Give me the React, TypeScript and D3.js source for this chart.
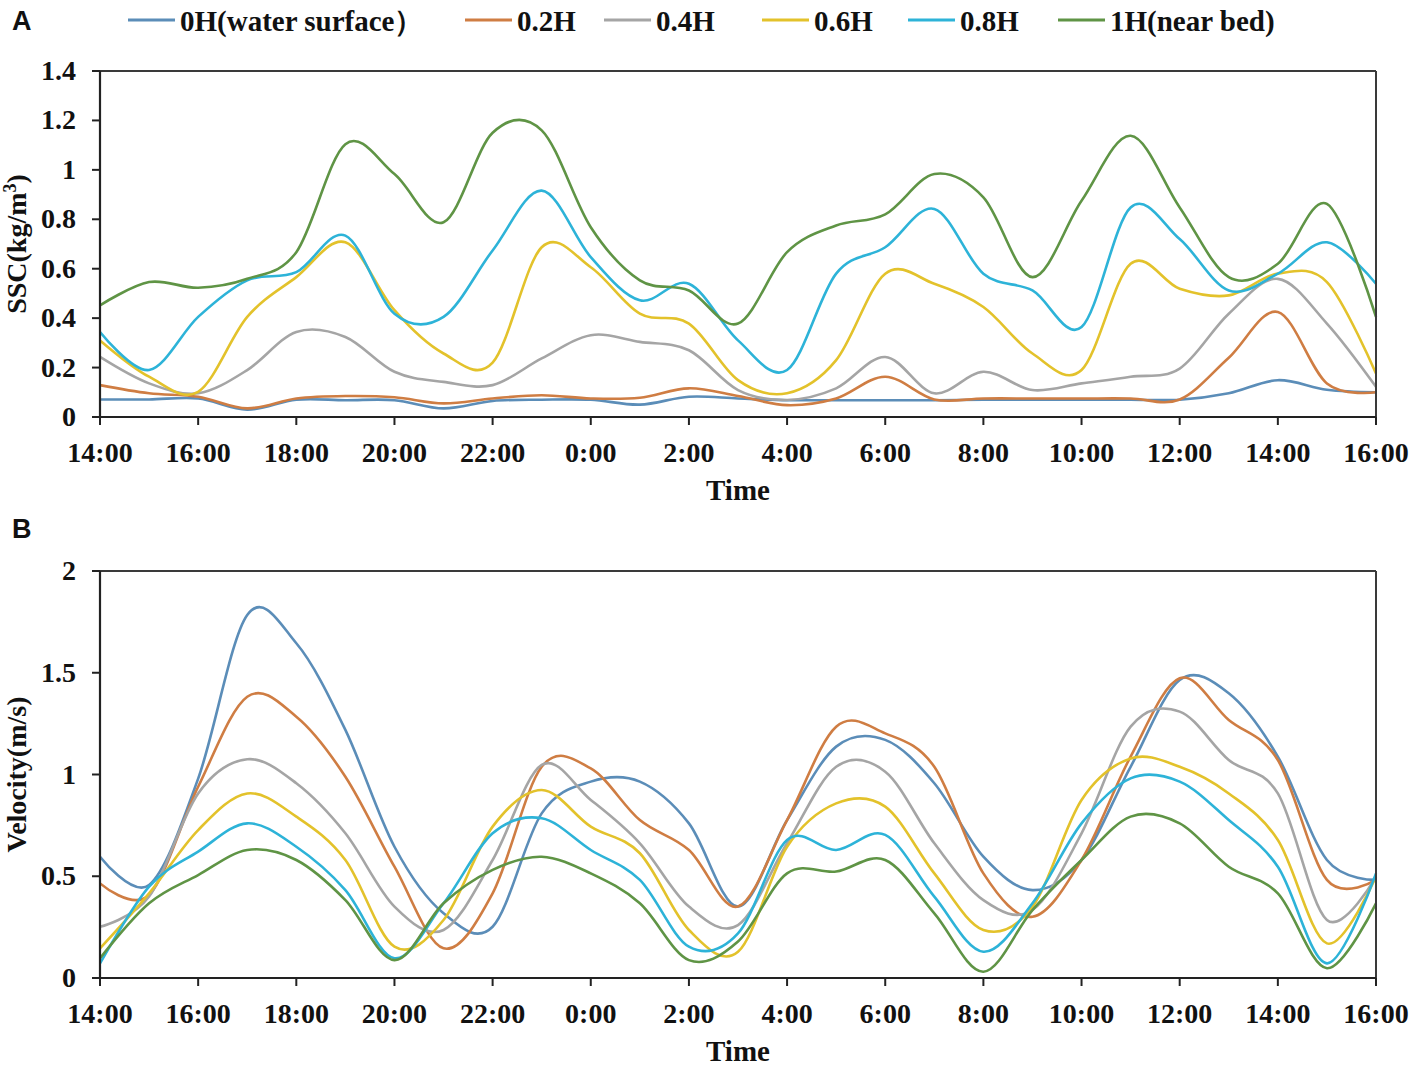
import React from "react";
import * as d3 from "d3";

// ---------- data ----------
const HOURS = [0, 1, 2, 3, 4, 5, 6, 7, 8, 9, 10, 11, 12, 13, 14, 15, 16, 17, 18, 19, 20, 21, 22, 23, 24, 25, 26];
const TICK_LABELS = ["14:00", "16:00", "18:00", "20:00", "22:00", "0:00", "2:00", "4:00", "6:00", "8:00", "10:00", "12:00", "14:00", "16:00"];
const SERIES_NAMES = ["0H(water surface）", "0.2H", "0.4H", "0.6H", "0.8H", "1H(near bed)"];
const SERIES_COLORS = ["#5B8DB8", "#CF7D43", "#A5A5A5", "#E3C22B", "#2DB3D8", "#5F9445"];

const SSC_0H = [0.071, 0.071, 0.075, 0.03, 0.07, 0.068, 0.068, 0.035, 0.065, 0.07, 0.07, 0.05, 0.082, 0.075, 0.068, 0.068, 0.068, 0.068, 0.07, 0.07, 0.07, 0.07, 0.07, 0.096, 0.149, 0.11, 0.1];
const SSC_02H = [0.129, 0.096, 0.082, 0.035, 0.075, 0.085, 0.08, 0.055, 0.075, 0.088, 0.075, 0.078, 0.116, 0.085, 0.048, 0.075, 0.163, 0.071, 0.075, 0.075, 0.075, 0.075, 0.071, 0.24, 0.425, 0.136, 0.1];
const SSC_04H = [0.243, 0.136, 0.096, 0.19, 0.344, 0.324, 0.183, 0.142, 0.129, 0.237, 0.331, 0.304, 0.27, 0.109, 0.069, 0.116, 0.243, 0.096, 0.183, 0.109, 0.136, 0.163, 0.196, 0.418, 0.559, 0.378, 0.122];
const SSC_06H = [0.31, 0.163, 0.102, 0.405, 0.566, 0.707, 0.432, 0.257, 0.22, 0.687, 0.606, 0.418, 0.378, 0.149, 0.096, 0.23, 0.58, 0.539, 0.445, 0.257, 0.19, 0.62, 0.519, 0.492, 0.58, 0.546, 0.176];
const SSC_08H = [0.344, 0.19, 0.405, 0.553, 0.586, 0.734, 0.418, 0.405, 0.674, 0.916, 0.647, 0.472, 0.539, 0.31, 0.19, 0.58, 0.687, 0.842, 0.58, 0.512, 0.364, 0.848, 0.72, 0.512, 0.58, 0.707, 0.539];
const SSC_1H = [0.452, 0.546, 0.523, 0.559, 0.667, 1.104, 0.983, 0.788, 1.15, 1.16, 0.768, 0.553, 0.512, 0.378, 0.667, 0.775, 0.82, 0.983, 0.889, 0.566, 0.875, 1.138, 0.848, 0.566, 0.62, 0.862, 0.405];

const VEL_0H = [0.596, 0.457, 0.98, 1.784, 1.645, 1.219, 0.645, 0.318, 0.252, 0.809, 0.965, 0.965, 0.76, 0.351, 0.776, 1.137, 1.17, 0.957, 0.596, 0.432, 0.58, 1.038, 1.464, 1.399, 1.088, 0.58, 0.482];
const VEL_02H = [0.465, 0.408, 0.94, 1.382, 1.284, 0.989, 0.547, 0.146, 0.416, 1.038, 1.03, 0.776, 0.629, 0.351, 0.776, 1.235, 1.202, 1.038, 0.514, 0.301, 0.58, 1.088, 1.473, 1.268, 1.071, 0.482, 0.482];
const VEL_04H = [0.252, 0.4, 0.907, 1.075, 0.957, 0.711, 0.351, 0.236, 0.58, 1.047, 0.875, 0.662, 0.351, 0.26, 0.662, 1.038, 1.014, 0.662, 0.383, 0.334, 0.711, 1.235, 1.309, 1.071, 0.907, 0.285, 0.498];
const VEL_06H = [0.146, 0.416, 0.727, 0.907, 0.793, 0.58, 0.154, 0.285, 0.744, 0.924, 0.744, 0.613, 0.236, 0.129, 0.645, 0.858, 0.842, 0.514, 0.236, 0.35, 0.875, 1.079, 1.038, 0.907, 0.678, 0.17, 0.498];
const VEL_08H = [0.072, 0.449, 0.621, 0.76, 0.645, 0.432, 0.097, 0.367, 0.711, 0.785, 0.629, 0.482, 0.154, 0.219, 0.678, 0.629, 0.703, 0.4, 0.129, 0.367, 0.76, 0.981, 0.965, 0.776, 0.547, 0.072, 0.514];
const VEL_1H = [0.097, 0.367, 0.506, 0.629, 0.58, 0.383, 0.088, 0.367, 0.531, 0.596, 0.514, 0.367, 0.088, 0.179, 0.514, 0.523, 0.58, 0.318, 0.031, 0.334, 0.58, 0.793, 0.76, 0.547, 0.416, 0.048, 0.367];

const SSC_TICKS = [0, 0.2, 0.4, 0.6, 0.8, 1, 1.2, 1.4];
const VEL_TICKS = [0, 0.5, 1, 1.5, 2];

const SSC_SERIES = [SSC_0H, SSC_02H, SSC_04H, SSC_06H, SSC_08H, SSC_1H];
const VEL_SERIES = [VEL_0H, VEL_02H, VEL_04H, VEL_06H, VEL_08H, VEL_1H];

// ---------- layout ----------
const W = 1417;
const H = 1068;
const PLOT_LEFT = 100;
const PLOT_RIGHT = 1376;
const SERIF = "'Liberation Serif', 'Times New Roman', serif";
const SANS = "'Liberation Sans', Arial, sans-serif";

type PanelProps = {
  top: number;
  bottom: number;
  yMax: number;
  yTicks: number[];
  series: number[][];
  yLabel: React.ReactNode;
};

function Panel({ top, bottom, yMax, yTicks, series, yLabel }: PanelProps) {
  const x = d3.scaleLinear().domain([0, 26]).range([PLOT_LEFT, PLOT_RIGHT]);
  const y = d3.scaleLinear().domain([0, yMax]).range([bottom, top]);
  const line = d3
    .line<number>()
    .x((_, i) => x(HOURS[i]))
    .y((d) => y(d))
    .curve(d3.curveCatmullRom.alpha(0));
  const xTicks = TICK_LABELS.map((lab, i) => ({ lab, h: i * 2 }));
  const fmt = d3.format("~g");
  const midY = (top + bottom) / 2;
  return (
    <g>
      {series.map((s, i) => (
        <path key={i} d={line(s) || ""} fill="none" stroke={SERIES_COLORS[i]} strokeWidth={2.6} strokeLinejoin="round" />
      ))}
      {/* frame */}
      <line x1={PLOT_LEFT} x2={PLOT_RIGHT} y1={top} y2={top} stroke="#3a3a3a" strokeWidth={2} />
      <line x1={PLOT_RIGHT} x2={PLOT_RIGHT} y1={top} y2={bottom} stroke="#3a3a3a" strokeWidth={2} />
      <line x1={PLOT_LEFT} x2={PLOT_LEFT} y1={top} y2={bottom} stroke="#222" strokeWidth={2.2} />
      <line x1={PLOT_LEFT - 8} x2={PLOT_RIGHT} y1={bottom} y2={bottom} stroke="#222" strokeWidth={2.2} />
      {yTicks.map((t) => (
        <g key={t}>
          <line x1={PLOT_LEFT - 8} x2={PLOT_LEFT} y1={y(t)} y2={y(t)} stroke="#222" strokeWidth={2} />
          <text x={PLOT_LEFT - 24} y={y(t) + 9} textAnchor="end" fontFamily={SERIF} fontWeight="bold" fontSize={28} fill="#111">
            {fmt(t)}
          </text>
        </g>
      ))}
      {xTicks.map(({ lab, h }, i) => (
        <g key={i}>
          <line x1={x(h)} x2={x(h)} y1={bottom} y2={bottom + 8} stroke="#222" strokeWidth={2} />
          <text x={x(h)} y={bottom + 45} textAnchor="middle" fontFamily={SERIF} fontWeight="bold" fontSize={28} fill="#111">
            {lab}
          </text>
        </g>
      ))}
      <text x={(PLOT_LEFT + PLOT_RIGHT) / 2} y={bottom + 83} textAnchor="middle" fontFamily={SERIF} fontWeight="bold" fontSize={29} fill="#111">
        Time
      </text>
      <text
        transform={`translate(26, ${midY}) rotate(-90)`}
        textAnchor="middle"
        fontFamily={SERIF}
        fontWeight="bold"
        fontSize={28}
        fill="#111"
      >
        {yLabel}
      </text>
    </g>
  );
}

export default function App() {
  const legendStarts = [128, 465, 604, 762, 908, 1058];
  return (
    <svg
      width={W}
      height={H}
      viewBox={`0 0 ${W} ${H}`}
      style={{ position: "absolute", left: 0, top: 0, background: "#fff", display: "block" }}
    >
      <rect x={0} y={0} width={W} height={H} fill="#fff" />
      <text x={12} y={30} fontFamily={SANS} fontWeight="bold" fontSize={27} fill="#111">A</text>
      <text x={12} y={538} fontFamily={SANS} fontWeight="bold" fontSize={27} fill="#111">B</text>
      {SERIES_NAMES.map((name, i) => (
        <g key={name}>
          <line x1={legendStarts[i]} x2={legendStarts[i] + 47} y1={20} y2={20} stroke={SERIES_COLORS[i]} strokeWidth={3} />
          <text x={legendStarts[i] + 52} y={31} fontFamily={SERIF} fontWeight="bold" fontSize={29} fill="#111">
            {name}
          </text>
        </g>
      ))}
      <Panel
        top={71}
        bottom={417}
        yMax={1.4}
        yTicks={SSC_TICKS}
        series={SSC_SERIES}
        yLabel={
          <>
            SSC(kg/m<tspan baselineShift="super" fontSize={18}>3</tspan>)
          </>
        }
      />
      <Panel top={571} bottom={978} yMax={2} yTicks={VEL_TICKS} series={VEL_SERIES} yLabel={"Velocity(m/s)"} />
    </svg>
  );
}
